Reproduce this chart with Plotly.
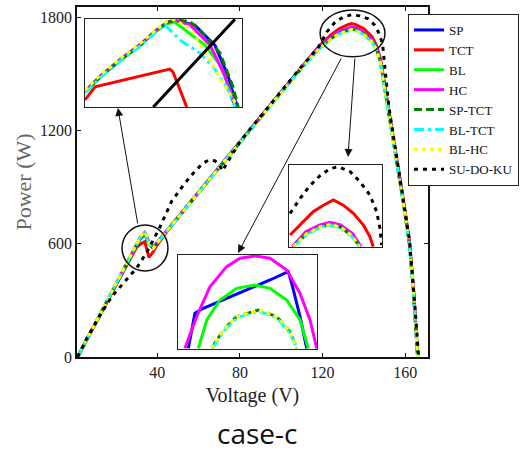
import plotly.graph_objects as go

# ---------------- main P-V data ----------------
voltage = [1.5, 5, 10, 15, 20, 25, 30, 32, 34, 36, 38, 40, 45, 50, 60, 70, 80, 90, 100, 110,
           118, 124, 128, 132, 134, 136, 140, 144, 146, 148, 151, 155, 159, 162, 164, 166]
p_sp = [0, 72, 175, 280, 385, 490, 590, 628, 650, 600, 575, 605, 672, 738, 870, 1003, 1138, 1272, 1405, 1535,
        1635, 1692, 1720, 1737, 1742, 1738, 1716, 1676, 1638, 1565, 1365, 1095, 825, 600, 345, 0]
p_tct = [0, 70, 172, 276, 380, 482, 580, 598, 610, 528, 556, 594, 668, 735, 868, 1001, 1136, 1271, 1405, 1538,
         1642, 1705, 1738, 1758, 1765, 1760, 1738, 1695, 1652, 1580, 1380, 1110, 840, 615, 360, 20]
p_bl = [0, 73, 176, 281, 386, 492, 595, 634, 656, 605, 578, 607, 673, 739, 871, 1004, 1139, 1272, 1404, 1533,
        1630, 1685, 1713, 1730, 1736, 1732, 1710, 1670, 1630, 1558, 1358, 1090, 820, 595, 340, 0]
p_hc = [0, 74, 177, 283, 388, 494, 597, 637, 660, 610, 580, 608, 674, 740, 872, 1005, 1140, 1274, 1406, 1536,
        1636, 1694, 1724, 1742, 1747, 1743, 1720, 1680, 1642, 1570, 1370, 1100, 830, 605, 350, 0]
p_sp_tct = [0, 72, 175, 280, 386, 491, 593, 632, 655, 603, 577, 606, 672, 738, 870, 1003, 1138, 1271, 1403, 1532,
            1630, 1686, 1714, 1731, 1736, 1733, 1712, 1674, 1637, 1566, 1368, 1098, 828, 603, 348, 0]
p_bl_tct = [0, 73, 176, 282, 387, 493, 596, 636, 658, 600, 570, 603, 670, 736, 868, 1001, 1136, 1270, 1402, 1530,
            1627, 1682, 1710, 1727, 1732, 1728, 1706, 1666, 1628, 1556, 1356, 1088, 818, 594, 338, 0]
p_bl_hc = [0, 74, 178, 284, 389, 495, 598, 638, 662, 606, 575, 606, 672, 738, 870, 1003, 1137, 1271, 1403, 1532,
           1629, 1684, 1712, 1729, 1734, 1730, 1708, 1668, 1630, 1558, 1360, 1092, 822, 598, 342, 0]
voltage_sdk = [1.5, 6, 12, 18, 24, 30, 35, 41, 47, 53, 58, 62, 65, 68, 70, 71.5, 80, 90, 100, 110,
               118, 122, 126, 130, 134, 138, 142, 145, 147, 149, 152, 155, 159, 162, 164, 166.5]
p_sdk = [0, 100, 215, 320, 395, 470, 555, 680, 825, 915, 980, 1025, 1043, 1038, 1020, 985, 1140, 1275, 1408, 1540,
         1640, 1720, 1772, 1800, 1812, 1806, 1790, 1760, 1720, 1660, 1330, 1120, 840, 620, 360, 0]

series_names = ["SP", "TCT", "BL", "HC", "SP-TCT", "BL-TCT", "BL-HC", "SU-DO-KU"]
series_colors = ["#0000ff", "#ff0000", "#00ff00", "#ff00ff", "#007f00", "#00ffff", "#ffff00", "#000000"]
series_dash = ["solid", "solid", "solid", "solid", "8px,4px", "10px,4px,3px,4px", "4px,4px", "4px,5px"]
series_power = [p_sp, p_tct, p_bl, p_hc, p_sp_tct, p_bl_tct, p_bl_hc, p_sdk]
series_volt = [voltage] * 7 + [voltage_sdk]

x_ticks = [40, 80, 120, 160]
y_ticks = [0, 600, 1200, 1800]

# ---------------- inset data (normalised zoom-window units 0-100) ----------------
# inset 1: zoom of the first local peak (~34 V)
ins1 = {
    "SP": ([0, 9.6, 22.3, 35, 45.7, 52, 58, 70, 82.8, 91, 95.5, 97.5],
           [17, 34, 53, 70, 87, 95, 98, 93, 70, 36, 8, 0]),
    "TCT": ([0, 6.4, 54, 56, 64.8], [8, 23, 43, 40, 0]),
    "BL": ([0, 9.6, 22.3, 35, 45.7, 51, 57, 63.7, 76.4, 86, 92.4, 95.5],
           [17, 34, 53, 70, 87, 94, 96.6, 87.5, 70.5, 47.7, 19.3, 0]),
    "HC": ([0, 9.6, 22.3, 35, 45.7, 52, 57, 67, 79.6, 89, 94, 96],
           [18, 35, 54, 71, 88, 96, 99, 93, 70.5, 36, 8, 0]),
    "SP-TCT": ([0, 9.6, 22.3, 35, 45.7, 52, 58, 66.9, 73.2, 86, 94.3, 97.5],
               [17, 34, 53, 70, 87, 96, 99, 97, 87.5, 61.4, 22.7, 0]),
    "BL-TCT": ([0, 9.6, 22.3, 35, 45.7, 51, 60.5, 73.2, 81.5, 90.3, 95.5],
               [16, 33, 52, 69, 86, 93, 76, 61.4, 45.5, 23, 0]),
    "BL-HC": ([0, 9.6, 22.3, 35, 45.7, 52, 56, 67, 79.6, 88, 96.8],
              [19, 36, 55, 72, 89, 97, 99.5, 90, 53.4, 27, 2]),
    "SU-DO-KU": ([43.5, 95.5], [0, 99.7]),
}
# inset 2: zoom of the global peak (~134 V)
ins2 = {
    "SP": ([4.6, 19, 33.3, 44, 54.8, 67.4, 76.3], [0.4, 17.5, 26, 28.7, 26, 15.5, 0.4]),
    "TCT": ([1.1, 11.8, 26, 37, 47.7, 58.4, 69.2, 80, 87, 90.6],
            [14.6, 26.8, 43, 51, 57.3, 51, 41, 26.8, 12.6, 0.4]),
    "BL": ([4.6, 19, 33.3, 44, 54.8, 67.4, 76.3], [0.4, 16.7, 25, 27.7, 25, 14.6, 0.4]),
    "HC": ([3.5, 18, 33, 44, 55.5, 68.5, 77.5], [0.4, 18.5, 27, 30, 27, 16, 0.4]),
    "SP-TCT": ([4.6, 19, 33.3, 44, 54.8, 67.4, 76.3], [0.4, 16, 24.5, 27, 24.5, 14, 0.4]),
    "BL-TCT": ([5, 19.5, 33.3, 44, 54.5, 67, 75.8], [0.4, 15.5, 23.8, 26.5, 23.8, 13.5, 0.4]),
    "BL-HC": ([4.6, 19, 33.3, 44, 54.8, 67.4, 76.3], [0.4, 16.3, 24.6, 27.3, 24.6, 14.2, 0.4]),
    "SU-DO-KU": ([1.1, 11.8, 22.6, 33.3, 44, 53, 65.6, 76.3, 87, 94.3, 97.8, 99.6],
                 [41, 59, 75, 87, 95.5, 98, 92, 79.6, 63.4, 43, 23, 2.4]),
}
# inset 3: zoom of the peak region of SP / BL / HC / hybrids
ins3 = {
    "SP": ([7.4, 12.2, 18.2, 32.6, 51.8, 66.2, 79.3, 81.8, 87.8, 92.6],
           [0.7, 38, 43.3, 52.2, 64.6, 73.4, 82.3, 70, 34.4, 0.7]),
    "BL": ([14.6, 20.7, 30.2, 42.2, 55.4, 66.2, 78.2, 87.8, 93.7],
           [0.7, 30.9, 52.1, 64.5, 68, 64.5, 52.1, 30.9, 0.7]),
    "HC": ([5, 13.4, 23, 35, 44.6, 55.4, 66.2, 78.2, 87.8, 95, 99.8],
           [0.7, 34.4, 66.3, 87.6, 96.5, 99, 96.5, 84, 59.2, 30.9, 0.7]),
    "SP-TCT": ([24.2, 32.6, 42.2, 57.8, 71, 80.6, 85.4], [0.7, 20.2, 34.4, 41.5, 34.4, 18.4, 0.7]),
    "BL-TCT": ([24.8, 33.2, 42.8, 57.8, 70.6, 80.2, 85.9], [0.7, 19.5, 33.6, 40.5, 33.6, 17.6, 0.7]),
    "BL-HC": ([24.2, 32.6, 42.2, 57.8, 71, 80.6, 85.4], [0.7, 20.2, 34.4, 41.5, 34.4, 18.4, 0.7]),
}

fig = go.Figure()

for name, col, dash, vv, pp in zip(series_names, series_colors, series_dash, series_volt, series_power):
    fig.add_trace(go.Scatter(x=vv, y=pp, name=name, mode="lines",
                             line=dict(color=col, width=3, dash=dash),
                             xaxis="x", yaxis="y"))

for ins, ax in [(ins1, "2"), (ins2, "3"), (ins3, "4")]:
    for name, col, dash in zip(series_names, series_colors, series_dash):
        if name not in ins:
            continue
        xs, ys = ins[name]
        d = dash
        if ins is ins1 and name == "SU-DO-KU":
            d = "solid"
        fig.add_trace(go.Scatter(x=xs, y=ys, mode="lines", showlegend=False, hoverinfo="skip",
                                 line=dict(color=col, width=3, dash=d),
                                 xaxis="x" + ax, yaxis="y" + ax))

serif = "Liberation Serif, Times New Roman, serif"

inset_axis = dict(range=[0, 100], showline=True, mirror=True, linecolor="#222", linewidth=1,
                  showticklabels=False, ticks="", showgrid=False, zeroline=False, fixedrange=True)

# plot area: x 77..428 px, y 7..357 px
def dom_x(a, b):
    return [(a - 77) / 351, (b - 77) / 351]

def dom_y(top, bottom):
    return [(357 - bottom) / 350, (357 - top) / 350]

fig.update_layout(
    width=521, height=452,
    margin=dict(l=77, r=93, t=7, b=95, autoexpand=False),
    paper_bgcolor="white", plot_bgcolor="white",
    font=dict(family=serif, color="#111"),
    xaxis=dict(range=[1.2, 171], domain=[0, 1], tickvals=x_ticks, ticks="inside", ticklen=4,
               showline=True, mirror="ticks", linecolor="#111", linewidth=1.5, tickcolor="#111",
               showgrid=False, zeroline=False, tickfont=dict(size=16, family=serif, color="#222"),
               title=dict(text="Voltage (V)", font=dict(size=20, family=serif, color="#222"), standoff=8)),
    yaxis=dict(range=[0, 1853], domain=[0, 1], tickvals=y_ticks, ticks="inside", ticklen=4,
               showline=True, mirror="ticks", linecolor="#111", linewidth=1.5, tickcolor="#111",
               showgrid=False, zeroline=False, tickfont=dict(size=16, family=serif, color="#222"),
               title=dict(text="Power (W)", font=dict(size=22, family=serif, color="#666"), standoff=2)),
    xaxis2=dict(inset_axis, domain=dom_x(85, 242), anchor="y2"),
    yaxis2=dict(inset_axis, domain=dom_y(19, 107), anchor="x2"),
    xaxis3=dict(inset_axis, domain=dom_x(289, 382), anchor="y3"),
    yaxis3=dict(inset_axis, domain=dom_y(165, 247), anchor="x3"),
    xaxis4=dict(inset_axis, domain=dom_x(178, 317), anchor="y4"),
    yaxis4=dict(inset_axis, domain=dom_y(255, 349), anchor="x4"),
    legend=dict(x=(408 - 77) / 351, y=(357 - 14) / 350, xanchor="left", yanchor="top",
                bgcolor="white", bordercolor="#222", borderwidth=1,
                font=dict(size=13, family=serif, color="#111"), tracegroupgap=0,
                entrywidth=115, entrywidthmode="pixels"),
    showlegend=True,
)

# circled regions (in main data coordinates)
fig.add_shape(type="circle", xref="x", yref="y", x0=23.0, x1=45.2, y0=455, y1=699,
              line=dict(color="#111", width=1.5))
fig.add_shape(type="circle", xref="x", yref="y", x0=118.8, x1=150.2, y0=1589, y1=1837,
              line=dict(color="#111", width=1.5))

# arrows (head position in data coords, tail offset in pixels)
arrows = [(21.0, 1318, 20, 117), (79.1, 551, 104, -196), (132.3, 1059, 7, -100)]
for hx, hy, axp, ayp in arrows:
    fig.add_annotation(x=hx, y=hy, xref="x", yref="y", ax=axp, ay=ayp, text="",
                       showarrow=True, arrowhead=2, arrowsize=1.6, arrowwidth=1, arrowcolor="#111")

fig.add_annotation(text="case-c", xref="paper", yref="paper", x=(257 - 77) / 351, y=(357 - 433) / 350,
                   showarrow=False, xanchor="center", yanchor="middle",
                   font=dict(size=28, family="Open Sans, sans-serif", color="#111"))

fig.write_html("out.html")
